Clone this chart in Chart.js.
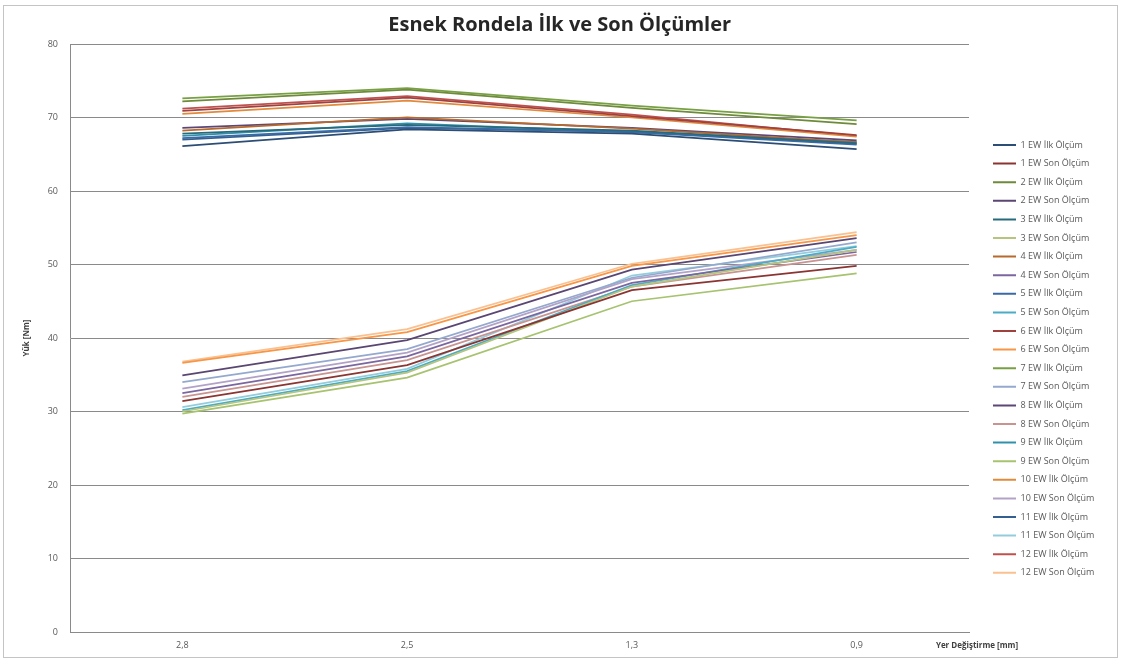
<!DOCTYPE html>
<html>
<head>
<meta charset="utf-8">
<script src="https://cdn.jsdelivr.net/npm/chart.js@4/dist/chart.umd.min.js"></script>
<style>
  html, body { margin: 0; padding: 0; background: #fff; }
  #wrap { position: relative; width: 1122px; height: 664px; }
  #frame { position: absolute; left: 3px; top: 5px; width: 1113px; height: 651px; border: 1px solid #c4c4c4; pointer-events: none; }
</style>
</head>
<body>
<div id="wrap">
  <canvas id="olcumChart" width="1122" height="664"></canvas>
  <div id="frame"></div>
</div>
<script>
// x categories: displacement in mm
const yerDegistirme = ["2,8", "2,5", "1,3", "0,9"];

// first measurements (İlk Ölçüm), load in Nm
const ilk1 = [66.1, 68.4, 67.8, 65.7];
const ilk2 = [72.2, 73.8, 71.3, 69.1];
const ilk3 = [67.8, 69.0, 68.2, 66.5];
const ilk4 = [68.2, 70.0, 68.5, 66.6];
const ilk5 = [67.2, 68.7, 68.0, 66.3];
const ilk6 = [70.9, 72.7, 70.2, 67.6];
const ilk7 = [72.6, 74.0, 71.6, 69.6];
const ilk8 = [68.6, 69.8, 68.6, 66.9];
const ilk9 = [67.5, 69.2, 68.0, 66.7];
const ilk10 = [70.5, 72.3, 70.0, 67.4];
const ilk11 = [67.0, 68.6, 68.1, 66.4];
const ilk12 = [71.2, 72.9, 70.4, 67.5];

// last measurements (Son Ölçüm)
const son1 = [31.4, 36.3, 46.5, 49.8];
const son2 = [34.9, 39.7, 49.3, 53.6];
const son3 = [30.0, 35.3, 47.0, 52.0];
const son4 = [32.5, 37.5, 47.5, 51.7];
const son5 = [30.2, 35.5, 47.2, 52.4];
const son6 = [36.6, 40.8, 49.8, 54.0];
const son7 = [34.0, 38.5, 48.2, 53.0];
const son8 = [32.0, 37.0, 47.0, 51.3];
const son9 = [29.7, 34.6, 45.0, 48.8];
const son10 = [33.1, 38.0, 48.0, 52.0];
const son11 = [30.6, 35.8, 48.5, 52.5];
const son12 = [36.8, 41.2, 50.1, 54.4];

const ilkValues = [ilk1, ilk2, ilk3, ilk4, ilk5, ilk6, ilk7, ilk8, ilk9, ilk10, ilk11, ilk12];
const sonValues = [son1, son2, son3, son4, son5, son6, son7, son8, son9, son10, son11, son12];

const ilkColors = ["#2C4D75", "#6E8A3A", "#276A7C", "#B86A2C", "#3A6AA6", "#A0413E",
                   "#77A043", "#5C4776", "#3191AB", "#E08A3C", "#34608F", "#C0504D"];
const sonColors = ["#8B3533", "#5A4673", "#B5C47E", "#7B66A0", "#4BACC6", "#F79646",
                   "#95A9CF", "#C99391", "#A7C36F", "#B3A2C7", "#93CDDD", "#FAC090"];

const textGrey = "#595959";
const fontFamily = "'Open Sans', sans-serif";

// legend order: 1 İlk, 1 Son, 2 İlk, 2 Son, ...
const datasets = [];
for (let i = 0; i < 12; i++) {
  datasets.push({
    label: (i + 1) + " EW İlk Ölçüm",
    data: ilkValues[i],
    borderColor: ilkColors[i],
    backgroundColor: ilkColors[i]
  });
  datasets.push({
    label: (i + 1) + " EW Son Ölçüm",
    data: sonValues[i],
    borderColor: sonColors[i],
    backgroundColor: sonColors[i]
  });
}

// measure the widest legend text so the legend starts at a fixed x
const legendFontSize = 9;
const legendPad = 9.6;
const legendLeft = 983.4;
const mctx = document.createElement("canvas").getContext("2d");
mctx.font = legendFontSize + "px " + fontFamily;
const maxText = Math.max(...datasets.map((d) => mctx.measureText(d.label).width));
const legendWidth = legendPad + 23 + legendFontSize / 2 + maxText + 10;
const padRight = Math.max(0, (1122 - legendLeft) - legendWidth);

// x axis title sits to the right of the category labels
const xTitlePlugin = {
  id: "xTitle",
  afterDraw(chart) {
    const ctx = chart.ctx;
    ctx.save();
    ctx.font = "bold 8px " + fontFamily;
    ctx.fillStyle = "#404040";
    ctx.textAlign = "center";
    ctx.textBaseline = "middle";
    ctx.fillText("Yer Değiştirme [mm]", chart.chartArea.right + 8, 646);
    ctx.restore();
  },
};

new Chart(document.getElementById("olcumChart").getContext("2d"), {
  type: "line",
  data: { labels: yerDegistirme, datasets: datasets },
  plugins: [xTitlePlugin],
  options: {
    responsive: false,
    animation: false,
    layout: { padding: { left: 15, top: 5, right: padRight, bottom: 0 } },
    elements: {
      line: { borderWidth: 1.75, tension: 0, fill: false },
      point: { radius: 0, hoverRadius: 0 },
    },
    plugins: {
      title: {
        display: true,
        text: "Esnek Rondela İlk ve Son Ölçümler",
        color: "#262626",
        font: { family: fontFamily, size: 20, weight: "bold" },
        padding: { top: 8, bottom: 7 },
      },
      legend: {
        position: "right",
        align: "center",
        title: { display: true, text: "", font: { size: 8 }, padding: { top: 39.2, bottom: 0 } },
        labels: {
          boxWidth: 23,
          boxHeight: 2,
          padding: legendPad,
          color: textGrey,
          font: { family: fontFamily, size: legendFontSize },
          generateLabels: (chart) =>
            Chart.defaults.plugins.legend.labels.generateLabels(chart).map((l) => ({ ...l, lineWidth: 0 })),
        },
      },
      tooltip: { enabled: false },
    },
    scales: {
      x: {
        offset: true,
        grid: { display: false, drawTicks: false },
        border: { display: true, color: "#8a8a8a", width: 1 },
        ticks: { color: textGrey, font: { family: fontFamily, size: 9 }, padding: 8 },
        afterFit: (s) => { s.height = 32; },
      },
      y: {
        min: 0,
        max: 80,
        ticks: { stepSize: 10, color: textGrey, font: { family: fontFamily, size: 9 }, padding: 12 },
        grid: { color: "#8a8a8a", lineWidth: 1, drawTicks: false },
        border: { display: true, color: "#8a8a8a", width: 1 },
        title: {
          display: true,
          text: "Yük [Nm]",
          color: "#404040",
          font: { family: fontFamily, size: 8, weight: "bold" },
          padding: { top: 7, bottom: 0 },
        },
        afterFit: (s) => { s.width = 55; },
      },
      // empty right axis, keeps a gap between plot and legend
      gap: {
        position: "right",
        display: true,
        grid: { display: false, drawTicks: false },
        border: { display: false },
        ticks: { display: false },
        afterFit: (s) => { s.width = 14.4; },
      },
    },
  },
});
</script>
</body>
</html>
